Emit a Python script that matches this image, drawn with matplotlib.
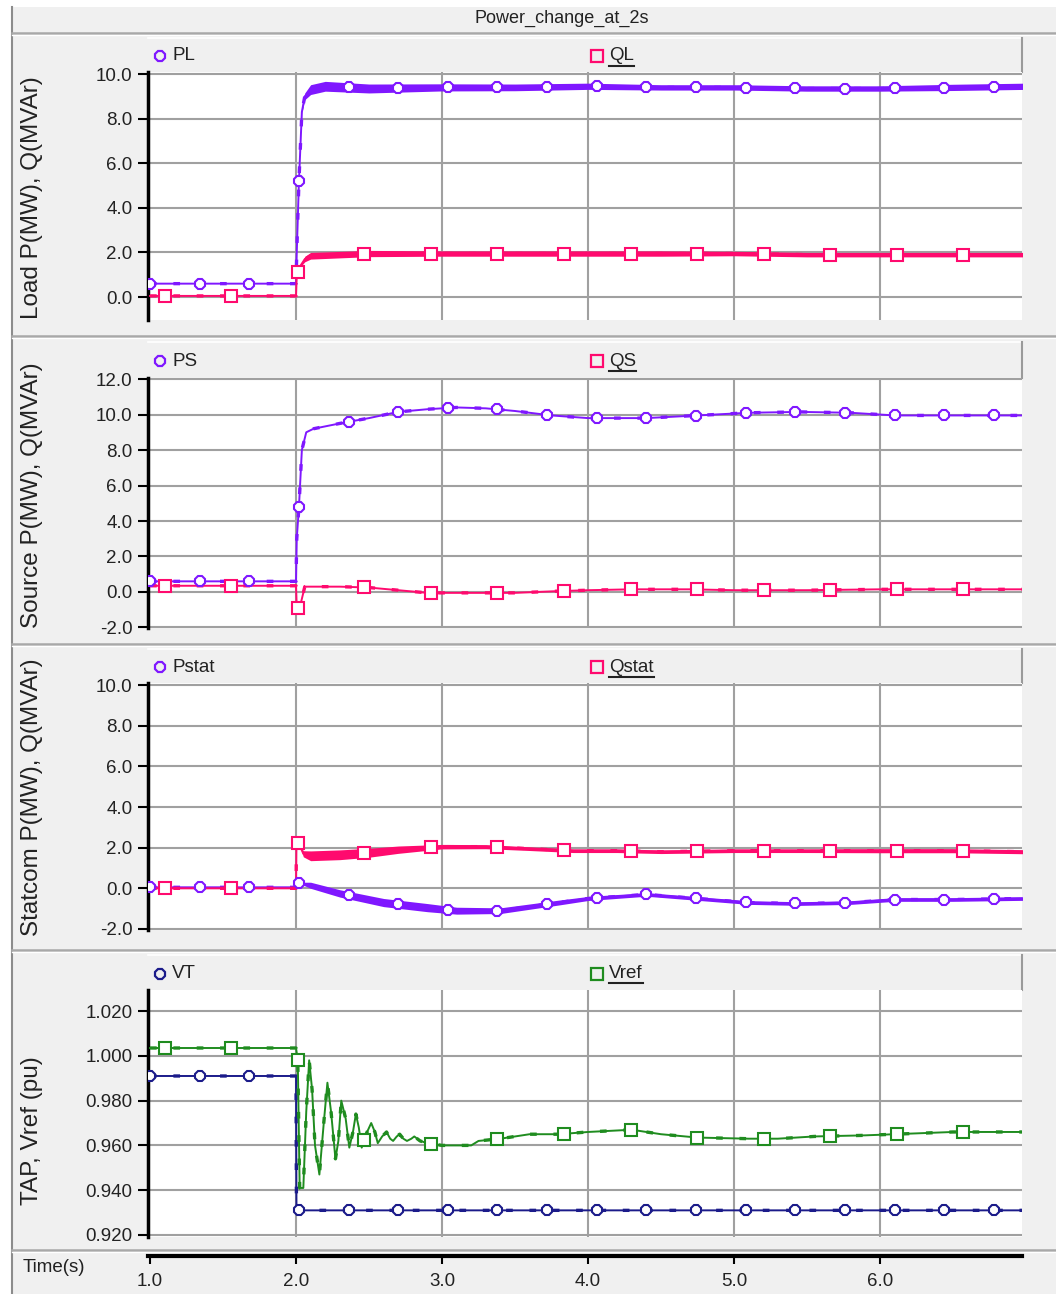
import matplotlib
matplotlib.use('Agg')
import matplotlib.pyplot as plt
from matplotlib.patches import Rectangle
from matplotlib.ticker import FormatStrFormatter
import numpy as np

W, H = 1056, 1294
plt.rcParams['font.family'] = ['Liberation Sans', 'DejaVu Sans']

PURPLE = '#7f17ff'
PINK = '#ff0a6e'
NAVY = '#1b1b8a'
GREEN = '#1f8c1f'

# ---- Load P / Q ----
PL_t = [1.0, 2.0, 2.005, 2.02, 2.04, 2.06, 2.1, 2.2, 2.5, 3.0, 3.5, 4.0, 4.5, 5.0, 5.5, 6.0, 6.5, 7.0]
PL_v = [0.6, 0.6, 2.0, 5.2, 8.3, 9.0, 9.3, 9.45, 9.35, 9.4, 9.4, 9.45, 9.4, 9.4, 9.35, 9.35, 9.4, 9.45]
PL_r = [0, 0, 0, 0, 0.05, 0.15, 0.22, 0.22, 0.2, 0.16, 0.15, 0.14, 0.12, 0.12, 0.12, 0.12, 0.14, 0.14]
QL_t = [1.0, 2.0, 2.005, 2.03, 2.06, 2.1, 2.5, 3.0, 3.5, 4.0, 4.5, 5.0, 5.5, 6.0, 6.5, 7.0]
QL_v = [0.05, 0.05, 1.0, 1.4, 1.7, 1.85, 1.95, 1.95, 1.95, 1.95, 1.95, 1.95, 1.9, 1.9, 1.9, 1.9]
QL_r = [0, 0, 0, 0.05, 0.12, 0.15, 0.14, 0.12, 0.12, 0.12, 0.12, 0.1, 0.1, 0.1, 0.1, 0.1]

# ---- Source P / Q ----
PS_t = [1.0, 2.0, 2.005, 2.02, 2.04, 2.07, 2.12, 2.3, 2.5, 2.7, 2.9, 3.1, 3.3, 3.5, 3.75,
        4.0, 4.4, 4.75, 5.1, 5.45, 5.8, 6.1, 6.5, 7.0]
PS_v = [0.6, 0.6, 3.0, 4.8, 8.0, 9.0, 9.2, 9.5, 9.8, 10.15, 10.3, 10.4, 10.35, 10.2, 9.95,
        9.8, 9.8, 9.95, 10.1, 10.15, 10.1, 9.95, 9.95, 9.95]
QS_t = [1.0, 2.0, 2.005, 2.025, 2.06, 2.3, 2.5, 2.7, 2.9, 3.2, 3.5, 3.8, 4.0, 4.3, 4.7,
        5.0, 5.5, 6.0, 6.5, 7.0]
QS_v = [0.35, 0.35, -0.9, -0.9, 0.3, 0.3, 0.25, 0.1, -0.05, -0.05, -0.05, 0.05, 0.1, 0.15, 0.15,
        0.1, 0.1, 0.15, 0.15, 0.15]

# ---- Statcom P / Q ----
Pstat_t = [1.0, 2.0, 2.003, 2.1, 2.3, 2.6, 2.9, 3.1, 3.4, 3.6, 3.8, 4.0, 4.4, 4.75,
           5.1, 5.45, 5.8, 6.1, 6.5, 7.0]
Pstat_v = [0.05, 0.05, 0.3, 0.15, -0.25, -0.7, -0.95, -1.1, -1.1, -0.9, -0.7, -0.5, -0.3, -0.5,
           -0.7, -0.75, -0.7, -0.55, -0.55, -0.5]
Pstat_r = [0, 0, 0, 0.15, 0.18, 0.2, 0.2, 0.17, 0.14, 0.13, 0.12, 0.1, 0.09, 0.09,
           0.09, 0.09, 0.09, 0.09, 0.09, 0.09]
Qstat_t = [1.0, 2.0, 2.003, 2.02, 2.05, 2.1, 2.3, 2.5, 2.7, 3.0, 3.3, 3.6, 3.9, 4.2, 4.5,
           5.0, 5.5, 6.0, 6.5, 7.0]
Qstat_v = [0.0, 0.0, 2.25, 2.2, 1.7, 1.6, 1.65, 1.75, 1.9, 2.05, 2.05, 1.95, 1.85, 1.85, 1.8,
           1.85, 1.85, 1.85, 1.85, 1.8]
Qstat_r = [0, 0, 0, 0, 0.15, 0.24, 0.24, 0.22, 0.18, 0.11, 0.1, 0.09, 0.09, 0.09, 0.09,
           0.09, 0.09, 0.1, 0.1, 0.1]

# ---- TAP / Vref ----
VT_t = [1.0, 2.0, 2.003, 7.0]
VT_v = [0.991, 0.991, 0.931, 0.931]
Vref_t = [1.0, 2.0, 2.012, 2.025, 2.05, 2.07, 2.09, 2.11, 2.13, 2.16, 2.19, 2.215, 2.24, 2.27,
          2.29, 2.31, 2.34, 2.365, 2.39, 2.41, 2.43, 2.45, 2.48, 2.515, 2.54, 2.56, 2.59, 2.62,
          2.645, 2.665, 2.69, 2.71, 2.735, 2.76, 2.79, 2.81, 2.85, 2.9, 3.0, 3.2, 3.25, 3.4,
          3.6, 3.8, 4.0, 4.3, 4.5, 4.75, 5.1, 5.3, 5.55, 5.9, 6.1, 6.5, 7.0]
Vref_v = [1.0035, 1.0035, 0.998, 0.941, 0.941, 0.975, 0.998, 0.985, 0.960, 0.947, 0.970, 0.988,
          0.975, 0.954, 0.962, 0.980, 0.972, 0.959, 0.966, 0.974, 0.968, 0.959, 0.965, 0.970,
          0.966, 0.961, 0.964, 0.966, 0.963, 0.962, 0.964, 0.965, 0.963, 0.962, 0.963, 0.964,
          0.962, 0.961, 0.960, 0.960, 0.962, 0.963, 0.965, 0.965, 0.966, 0.967, 0.965, 0.9635,
          0.963, 0.963, 0.964, 0.9645, 0.965, 0.966, 0.966]

TIME_TICKS = [1.0, 2.0, 3.0, 4.0, 5.0, 6.0]
X_MIN, X_MAX = 0.986, 6.973
# marker spacing used by the plotting tool
P_MARKS = 1.0 + 0.34 * np.arange(18)
Q_MARKS = 1.1 + 0.456 * np.arange(13)

fig = plt.figure(figsize=(W / 100, H / 100), dpi=100)
fig.patch.set_facecolor('#f0f0f0')


def px_box(x0, y0, x1, y1):
    return [x0 / W, 1 - y1 / H, (x1 - x0) / W, (y1 - y0) / H]


# background frame, separators and headers (pixel coordinates)
bg = fig.add_axes([0, 0, 1, 1])
bg.set_xlim(0, W)
bg.set_ylim(H, 0)
bg.axis('off')
bg.add_patch(Rectangle((0, 0), 12, H, fc='white', ec='none'))
bg.add_patch(Rectangle((0, 0), W, 7, fc='white', ec='none'))
bg.plot([12, 12], [7, H], color='#8c8c8c', lw=1.5)
for y in [33, 336, 644, 950, 1250]:
    bg.plot([12, W], [y, y], color='#a8a8a8', lw=1.8)
    bg.plot([12, W], [y + 2, y + 2], color='white', lw=1)
bg.text(562, 18, 'Power_change_at_2s', ha='center', va='center', fontsize=13, color='#222')
bg.text(54, 1268, 'Time(s)', ha='center', va='center', fontsize=13.5, color='#222')

headers = [(38, 72), (342, 378), (649, 683), (955, 990)]
plot_boxes = [(148, 72, 1022, 320), (148, 378, 1022, 628), (148, 683, 1022, 930), (148, 990, 1022, 1237)]
ylabels = ['Load P(MW), Q(MVAr)', 'Source P(MW), Q(MVAr)', 'Statcom P(MW), Q(MVAr)', 'TAP, Vref (pu)']
ylabel_y = [198, 495, 797, 1131]
legend_names = [('PL', 'QL'), ('PS', 'QS'), ('Pstat', 'Qstat'), ('VT', 'Vref')]
p_colors = [PURPLE, PURPLE, PURPLE, NAVY]
q_colors = [PINK, PINK, PINK, GREEN]
ylims = [(-1.03, 10.09), (-2.03, 12.06), (-2.05, 10.1), (0.9191, 1.0294)]
yticks = [[0, 2, 4, 6, 8, 10], [-2, 0, 2, 4, 6, 8, 10, 12], [-2, 0, 2, 4, 6, 8, 10],
          [0.92, 0.94, 0.96, 0.98, 1.0, 1.02]]
yfmt = ['%.1f', '%.1f', '%.1f', '%.3f']

underline_texts = []
for i, (h0, h1) in enumerate(headers):
    bg.plot([148, 1022], [h0, h0], color='white', lw=1.2)
    bg.plot([1022, 1022], [h0, h1], color='#9a9a9a', lw=1.5)
    hy = (h0 + h1) / 2 + 1
    pn, qn = legend_names[i]
    bg.plot([160], [hy], marker='8', ms=8, mfc='none', mec=p_colors[i], mew=1.6)
    bg.text(172, hy, pn, ha='left', va='center', fontsize=13.5, color='#222')
    bg.plot([597], [hy], marker='s', ms=8, mfc='none', mec=q_colors[i], mew=1.6)
    qt = bg.text(609, hy, qn, ha='left', va='center', fontsize=13.5, color='#222')
    underline_texts.append(qt)
    bg.text(32, ylabel_y[i], ylabels[i], ha='center', va='center', rotation=90,
            fontsize=17.5, color='#222')


def make_panel(i):
    ax = fig.add_axes(px_box(*plot_boxes[i]))
    ax.set_facecolor('white')
    ax.set_xlim(X_MIN, X_MAX)
    ax.set_ylim(*ylims[i])
    ax.set_xticks(TIME_TICKS[1:])
    ax.set_yticks(yticks[i])
    ax.yaxis.set_major_formatter(FormatStrFormatter(yfmt[i]))
    ax.tick_params(axis='x', length=0, labelbottom=False)
    ax.tick_params(axis='y', length=7, width=1.5, color='black', labelsize=13.5,
                   labelcolor='#222', pad=4)
    ax.grid(True, color='#a0a0a0', lw=1.5)
    ax.set_axisbelow(True)
    for s in ['top', 'right', 'bottom']:
        ax.spines[s].set_visible(False)
    ax.spines['left'].set_linewidth(2.5)
    return ax


def draw_series(ax, t, v, color, marker, marks, ripple=None):
    t = np.array(t)
    v = np.array(v)
    if ripple is not None:
        r = np.array(ripple)
        ax.fill_between(t, v - r, v + r, color=color, lw=0, zorder=3)
    ax.plot(t, v, color=color, lw=1.4, zorder=4)
    ax.plot(t, v, color=color, lw=2.4, ls=(0, (2, 5)), zorder=4)
    ax.plot(marks, np.interp(marks, t, v), ls='none', marker=marker, ms=8,
            mfc='white', mec=color, mew=1.5, zorder=5)


series = [
    [(PL_t, PL_v, PL_r), (QL_t, QL_v, QL_r)],
    [(PS_t, PS_v, None), (QS_t, QS_v, None)],
    [(Pstat_t, Pstat_v, Pstat_r), (Qstat_t, Qstat_v, Qstat_r)],
    [(VT_t, VT_v, None), (Vref_t, Vref_v, None)],
]

for i in range(4):
    ax = make_panel(i)
    (pt, pv, pr), (qt_, qv, qr) = series[i]
    draw_series(ax, pt, pv, p_colors[i], '8', P_MARKS, pr)
    draw_series(ax, qt_, qv, q_colors[i], 's', Q_MARKS, qr)

# bottom time axis
tax = fig.add_axes(px_box(148, 1255, 1022, 1256))
tax.patch.set_alpha(0)
tax.set_xlim(X_MIN, X_MAX)
tax.set_yticks([])
tax.set_xticks(TIME_TICKS)
tax.set_xticklabels(['%.1f' % v for v in TIME_TICKS])
for s in ['top', 'left', 'right']:
    tax.spines[s].set_visible(False)
tax.spines['bottom'].set_linewidth(3)
tax.tick_params(axis='x', direction='out', length=6, width=1.5, labelsize=13.5,
                labelcolor='#222', pad=6)

# underline the second legend entry of each header
fig.canvas.draw()
renderer = fig.canvas.get_renderer()
inv = bg.transData.inverted()
for qt in underline_texts:
    bb = qt.get_window_extent(renderer)
    (x0, y0), (x1, y1) = inv.transform([[bb.x0, bb.y0], [bb.x1, bb.y1]])
    bg.plot([x0, x1], [y0 + 1, y0 + 1], color='#222', lw=1.5)

fig.savefig('out.png', dpi=100, facecolor=fig.get_facecolor())
